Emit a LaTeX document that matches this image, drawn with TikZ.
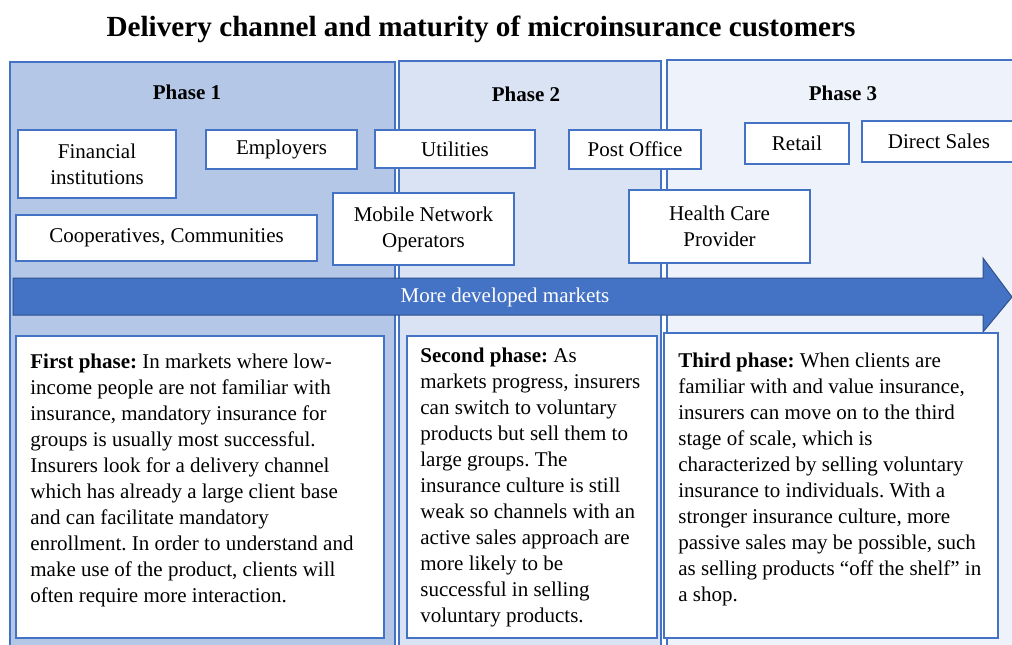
\documentclass[tikz,border=0pt]{standalone}
\usepackage{fontspec}
\setmainfont{Liberation Serif}
\frenchspacing
\definecolor{edgeblue}{HTML}{4472C4}
\definecolor{darkblue}{HTML}{2F528F}
\definecolor{phaseone}{HTML}{B4C7E7}
\definecolor{phasetwo}{HTML}{DAE3F3}
\definecolor{phasethree}{HTML}{EEF2FA}
\begin{document}
\begin{tikzpicture}[x=0.5pt, y=-0.5pt,
        panel/.style={draw=edgeblue, line width=1pt},
        chan/.style={draw=edgeblue, fill=white, line width=1pt, inner sep=0pt, align=center,
                font=\fontsize{10.5}{13}\selectfont},
        phase/.style={font=\bfseries\fontsize{10.5}{13}\selectfont},
        textbox/.style={draw=edgeblue, fill=white, line width=1pt, anchor=north west, inner sep=0pt},
        bodytext/.style={anchor=north west, inner sep=0pt, align=left,
                font=\fontsize{10.5}{13}\selectfont}]
        \useasboundingbox (0,0) rectangle (1012,644);
        \clip (0,0) rectangle (1012,644);
        \node[font=\bfseries\fontsize{14.6}{17}\selectfont] (title) at (481,29) {Delivery channel and maturity of microinsurance customers};
        % the three phases
        \draw[panel, fill=phaseone] (10,62) rectangle (395,660);
        \draw[panel, fill=phasetwo] (399,61) rectangle (661,660);
        \draw[panel, fill=phasethree] (667,60) rectangle (1030,660);
        \node[phase] (ph1) at (187,92) {Phase 1};
        \node[phase] (ph2) at (526,94) {Phase 2};
        \node[phase] (ph3) at (843,93) {Phase 3};
        % delivery channels
        \node[chan, minimum width=79pt, minimum height=34pt] (fin) at (97,164) {Financial\\institutions};
        \node[chan, minimum width=75.5pt, minimum height=19.5pt] (emp) at (281.5,149.5) {Employers};
        \node[chan, minimum width=80pt, minimum height=19pt] (util) at (455,149) {Utilities};
        \node[chan, minimum width=66pt, minimum height=19.5pt] (post) at (635,149.5) {Post Office};
        \node[chan, minimum width=52pt, minimum height=20.5pt] (retail) at (797,143.5) {Retail};
        \node[chan, minimum width=77pt, minimum height=20.5pt] (direct) at (939,141.5) {Direct Sales};
        \node[chan, minimum width=150.5pt, minimum height=23pt] (coop) at (166.5,238) {Cooperatives, Communities};
        \node[chan, minimum width=90.5pt, minimum height=36pt] (mno) at (423.5,229) {Mobile Network\\Operators};
        \node[chan, minimum width=90.5pt, minimum height=36.5pt] (health) at (719.5,226.5) {Health Care\\Provider};
        % market arrow
        \draw[fill=edgeblue, draw=darkblue, line width=0.5pt] (13,278) -- (983,278) -- (983,258) -- (1012,297)
                -- (983,332) -- (983,315) -- (13,315) -- cycle;
        \node[text=white, font=\fontsize{10.5}{13}\selectfont] (markets) at (505,297) {More developed markets};
        % phase descriptions
        \node[textbox, minimum width=184pt, minimum height=151pt] (box1) at (15,335) {};
        \node[textbox, minimum width=125pt, minimum height=151pt] (box2) at (406,335) {};
        \node[textbox, minimum width=167pt, minimum height=152.5pt] (box3) at (663,332) {};
        \node[bodytext] (first) at (30,354) {\textbf{First phase:} In markets where low-\\
                income people are not familiar with\\
                insurance, mandatory insurance for\\
                groups is usually most successful.\\
                Insurers look for a delivery channel\\
                which has already a large client base\\
                and can facilitate mandatory\\
                enrollment. In order to understand and\\
                make use of the product, clients will\\
                often require more interaction.};
        \node[bodytext] (second) at (420,348) {\textbf{Second phase:} As\\
                markets progress, insurers\\
                can switch to voluntary\\
                products but sell them to\\
                large groups. The\\
                insurance culture is still\\
                weak so channels with an\\
                active sales approach are\\
                more likely to be\\
                successful in selling\\
                voluntary products.};
        \node[bodytext] (third) at (678,353) {\textbf{Third phase:} When clients are\\
                familiar with and value insurance,\\
                insurers can move on to the third\\
                stage of scale, which is\\
                characterized by selling voluntary\\
                insurance to individuals. With a\\
                stronger insurance culture, more\\
                passive sales may be possible, such\\
                as selling products ``off the shelf'' in\\
                a shop.};
\end{tikzpicture}
\end{document}
